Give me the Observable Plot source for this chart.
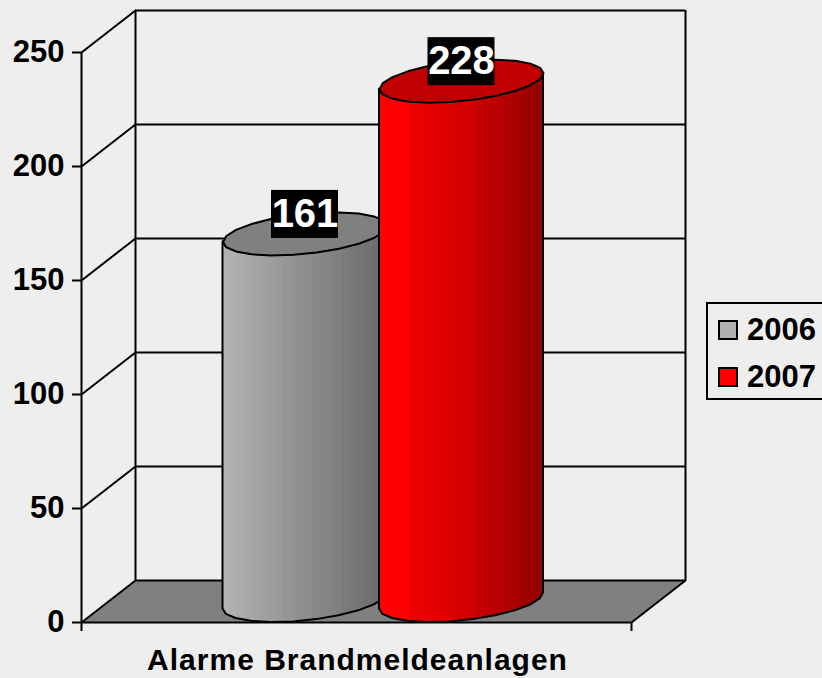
<!DOCTYPE html>
<html>
<head>
<meta charset="utf-8">
<script src="https://cdn.jsdelivr.net/npm/d3@7"></script>
<script src="https://cdn.jsdelivr.net/npm/@observablehq/plot@0.6"></script>
<style>
html,body{margin:0;padding:0;background:#eeeeee;width:822px;height:678px;overflow:hidden;position:relative;font-family:"Liberation Sans",Arial,sans-serif}
svg{display:block;position:absolute;left:0;top:0}
.cat{letter-spacing:1px}
#legend{position:absolute;left:706px;top:302px;width:130px;height:94px;border:2px solid #000;box-sizing:content-box}
#legend .row{position:absolute;left:10px;display:flex;align-items:center;font-weight:bold;font-size:31px;color:#000;height:30px}
#legend .sw{width:16px;height:16px;border:2px solid #000;margin-right:9px;display:inline-block}
</style>
</head>
<body>
<div id="chart"></div>
<script>
const years = ["2006", "2007"];
const values = [161, 228];
const category = "Alarme Brandmeldeanlagen";
const yTicks = [0, 50, 100, 150, 200, 250];
const sideLight = ["#b2b2b2", "#ff0000"];
const sideMid = ["#8c8c8c", "#d40000"];
const sideDark = ["#676767", "#8e0000"];
const topColors = ["#808080", "#c00000"];
const legendColors = ["#b0b0b0", "#ff0000"];

// chart units: x 0..1 across the front edge, y in value units
const pxX = 1 / 550, pxY = 250 / 570;
const depthX = 54 * pxX, depthY = 42 * pxY;
const centers = [304.5, 461].map(p => (p - 81) * pxX);
const rx = 82 * pxX, ry = 21.5 * pxY, tilt = 8 * pxY;
const tb = Math.sqrt(ry * ry - tilt * tilt);
const rim = (i, v, t) => ({
  x: centers[i] + rx * Math.cos(t),
  y: v + ry + tilt * Math.cos(t) + tb * Math.sin(t)
});
const N = 11;
const front = d3.range(N + 1).map(k => Math.PI + Math.PI * k / N);
const back = d3.range(N + 1).map(k => Math.PI * k / N);

const body = i => front.map(t => {
  const a = rim(i, values[i], t), b = rim(i, 0, t);
  return {x: a.x, y1: a.y, y2: b.y};
});
const lid = i => [...back, ...front].map(t => rim(i, values[i], t));

const defs = () => {
  const svg = d3.create("svg:defs");
  years.forEach((_, i) => {
    const g = svg.append("linearGradient").attr("id", "side" + i);
    const ramp = d3.scaleLinear().domain([0, 0.5, 1]).range([sideLight[i], sideMid[i], sideDark[i]]);
    const bands = 22;
    d3.range(bands).forEach(b => {
      const c = i === 1 && b / bands < 0.18 ? sideLight[i] : ramp(b / bands);
      g.append("stop").attr("offset", b / bands).attr("stop-color", c);
      g.append("stop").attr("offset", (b + 1) / bands).attr("stop-color", c);
    });
  });
  return svg.node();
};

const wall = {stroke: "#000", strokeWidth: 2};
const floor = [[0, 0], [1, 0], [1 + depthX, depthY], [depthX, depthY], [0, 0]];
const gridTicks = yTicks.slice(1);

const plot = Plot.plot({
  width: 822, height: 678,
  marginLeft: 81, marginRight: 191, marginTop: 52, marginBottom: 56,
  x: {domain: [0, 1], axis: null},
  y: {domain: [0, 250], axis: null},
  style: {background: "transparent", fontFamily: "'Liberation Sans', Arial, sans-serif", color: "#000"},
  marks: [
    defs,
    Plot.line(floor, {x: d => d[0], y: d => d[1], fill: "#808080", ...wall}),
    Plot.ruleY(gridTicks, {y: d => d + depthY, x1: depthX, x2: 1 + depthX, ...wall}),
    Plot.ruleX([depthX, 1 + depthX], {x: d => d, y1: depthY, y2: 250 + depthY, ...wall}),
    ...gridTicks.map(v => Plot.line([[0, v], [depthX, v + depthY]], {x: d => d[0], y: d => d[1], ...wall})),
    Plot.ruleX([0], {y1: -9 * pxY, y2: 250, ...wall}),
    Plot.ruleX([1], {y1: -9 * pxY, y2: 0, ...wall}),
    Plot.axisY({
      ticks: yTicks, tickSize: 9, tickPadding: 8, label: null,
      fontSize: 31, fontWeight: "bold", strokeWidth: 2, stroke: "#000", fill: "#000"
    }),
    ...years.flatMap((_, i) => [
      Plot.area(body(i), {x1: "x", y1: "y1", y2: "y2", fill: `url(#side${i})`, stroke: "#000", strokeWidth: 2}),
      Plot.line(lid(i), {x: "x", y: "y", fill: topColors[i], stroke: "#000", strokeWidth: 2})
    ]),
    Plot.rect(values, {
      x1: (d, i) => centers[i] - 33.5 * pxX, x2: (d, i) => centers[i] + 33.5 * pxX,
      y1: d => d + 17 * pxY, y2: d => d + 65 * pxY, fill: "#000", inset: 0
    }),
    Plot.text(values, {
      x: (d, i) => centers[i], y: d => d, dy: -41, text: d => String(d),
      fill: "#fff", fontSize: 40, fontWeight: "bold"
    }),
    Plot.text([category], {
      x: 0.5, y: 0, dy: 38, dx: 1, text: d => d, fontSize: 30, fontWeight: "bold", fill: "#000", className: "cat"
    })
  ]
});
document.getElementById("chart").appendChild(plot);

const legend = document.createElement("div");
legend.id = "legend";
years.forEach((y, i) => {
  const row = document.createElement("div");
  row.className = "row";
  row.style.top = (11 + i * 47) + "px";
  const sw = document.createElement("span");
  sw.className = "sw";
  sw.style.background = legendColors[i];
  row.appendChild(sw);
  row.appendChild(document.createTextNode(y));
  legend.appendChild(row);
});
document.body.appendChild(legend);
</script>
</body>
</html>
